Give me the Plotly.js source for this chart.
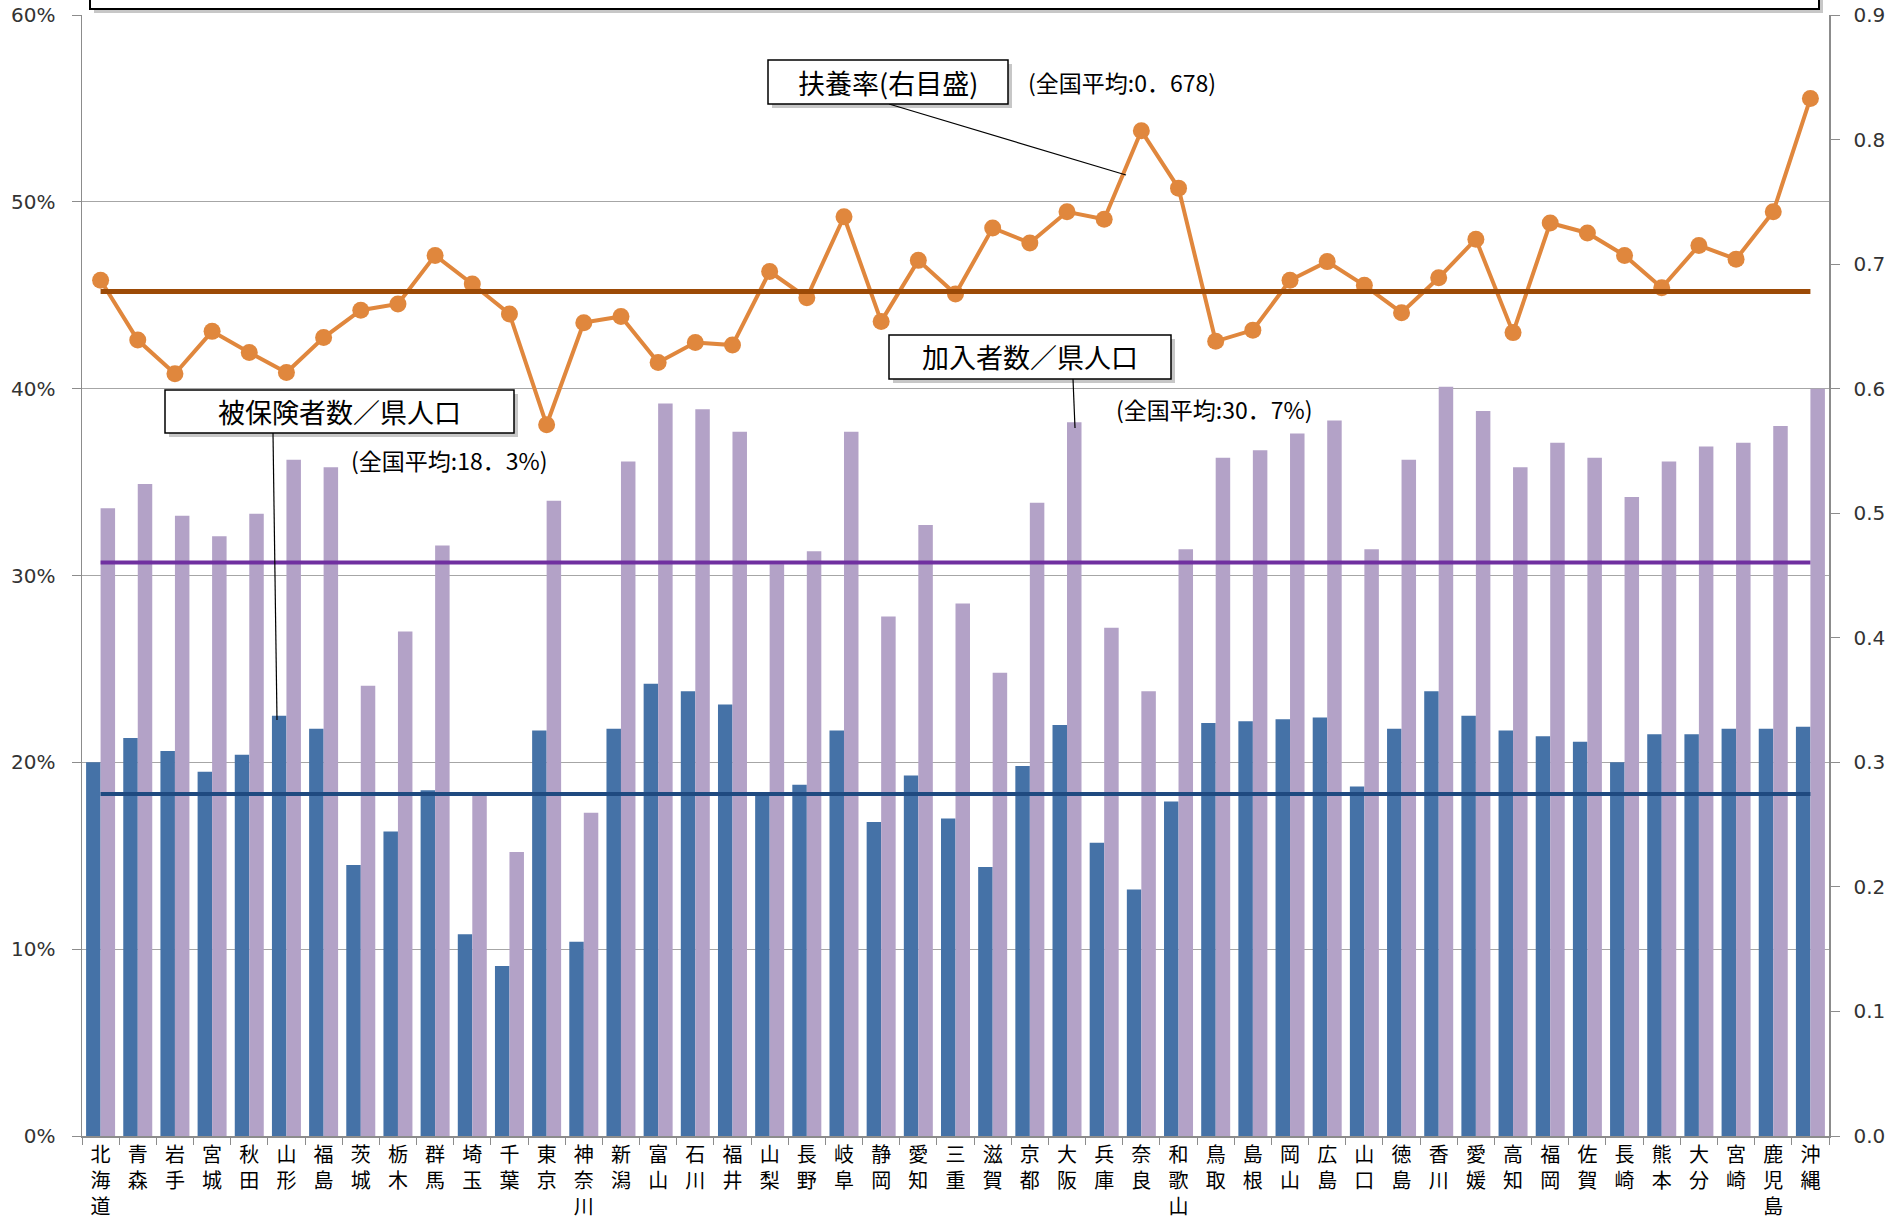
<!DOCTYPE html>
<html>
<head>
<meta charset="utf-8">
<script src="https://cdn.plot.ly/plotly-3.0.1.min.js"></script>
<style>
html,body{margin:0;padding:0;background:#ffffff;}
#chart{width:1891px;height:1218px;}
</style>
</head>
<body>
<div id="chart"></div>
<script>
// ---- data ----
const prefectures = ["北海道","青森","岩手","宮城","秋田","山形","福島","茨城","栃木","群馬",
  "埼玉","千葉","東京","神奈川","新潟","富山","石川","福井","山梨","長野",
  "岐阜","静岡","愛知","三重","滋賀","京都","大阪","兵庫","奈良","和歌山",
  "鳥取","島根","岡山","広島","山口","徳島","香川","愛媛","高知","福岡",
  "佐賀","長崎","熊本","大分","宮崎","鹿児島","沖縄"];

// 被保険者数／県人口 (%)
const insuredRatio = [20.0,21.3,20.6,19.5,20.4,22.5,21.8,14.5,16.3,18.5,
  10.8,9.1,21.7,10.4,21.8,24.2,23.8,23.1,18.4,18.8,
  21.7,16.8,19.3,17.0,14.4,19.8,22.0,15.7,13.2,17.9,
  22.1,22.2,22.3,22.4,18.7,21.8,23.8,22.5,21.7,21.4,
  21.1,20.0,21.5,21.5,21.8,21.8,21.9];

// 加入者数／県人口 (%)
const memberRatio = [33.6,34.9,33.2,32.1,33.3,36.2,35.8,24.1,27.0,31.6,
  18.2,15.2,34.0,17.3,36.1,39.2,38.9,37.7,30.6,31.3,
  37.7,27.8,32.7,28.5,24.8,33.9,38.2,27.2,23.8,31.4,
  36.3,36.7,37.6,38.3,31.4,36.2,40.1,38.8,35.8,37.1,
  36.3,34.2,36.1,36.9,37.1,38.0,40.0];

// 扶養率 (右目盛)
const dependencyRatio = [0.687,0.639,0.612,0.646,0.629,0.613,0.641,0.663,0.668,0.707,
  0.684,0.660,0.571,0.653,0.658,0.621,0.637,0.635,0.694,0.673,
  0.738,0.654,0.703,0.676,0.729,0.717,0.742,0.736,0.807,0.761,
  0.638,0.647,0.687,0.702,0.683,0.661,0.689,0.720,0.645,0.733,
  0.725,0.707,0.681,0.715,0.704,0.742,0.833];

// 全国平均
const avgInsured = 18.3;
const avgMember = 30.7;
const avgDependency = 0.678;

const boxLabels = ["扶養率(右目盛)", "加入者数／県人口", "被保険者数／県人口"];
const avgNotes = ["(全国平均:0．678)", "(全国平均:30．7%)", "(全国平均:18．3%)"];

// ---- geometry helpers (pixels -> paper) ----
const W = 1891, H = 1218;
const L = 82, R = 1829, T = 15, B = 1136;
const px = x => (x - L) / (R - L);
const py = y => (B - y) / (B - T);

const tickText = prefectures.map(p => p.split('').join('<br>'));
const flat = v => prefectures.map(() => v);

const traces = [
  {type:'bar', x:prefectures, y:insuredRatio, name:boxLabels[2],
   marker:{color:'#4572A7', line:{width:0}}, yaxis:'y', hoverinfo:'x+y'},
  {type:'bar', x:prefectures, y:memberRatio, name:boxLabels[1],
   marker:{color:'#B3A2C7', line:{width:0}}, yaxis:'y', hoverinfo:'x+y'},
  {type:'scatter', mode:'lines', x:prefectures, y:flat(avgMember), yaxis:'y',
   line:{color:'#7030A0', width:4}, hoverinfo:'skip'},
  {type:'scatter', mode:'lines', x:prefectures, y:flat(avgInsured), yaxis:'y',
   line:{color:'#1F4A80', width:4}, hoverinfo:'skip'},
  {type:'scatter', mode:'lines+markers', x:prefectures, y:dependencyRatio, yaxis:'y2',
   name:boxLabels[0], line:{color:'#E0873D', width:4},
   marker:{color:'#E0873D', size:17}},
  {type:'scatter', mode:'lines', x:prefectures, y:flat(avgDependency), yaxis:'y2',
   line:{color:'#9C4A06', width:5}, hoverinfo:'skip'}
];

function shadowBox(x0, y0, x1, y1, off, lw) {
  return [
    {type:'rect', xref:'paper', yref:'paper', layer:'above',
     x0:px(x0+off), x1:px(x1+off), y0:py(y0+off), y1:py(y1+off),
     fillcolor:'rgba(0,0,0,0.22)', line:{width:0}},
    {type:'rect', xref:'paper', yref:'paper', layer:'above',
     x0:px(x0), x1:px(x1), y0:py(y0), y1:py(y1),
     fillcolor:'#ffffff', line:{color:'#000000', width:lw}}
  ];
}
function callout(x0, y0, x1, y1) {
  return {type:'line', xref:'paper', yref:'paper', layer:'above',
    x0:px(x0), y0:py(y0), x1:px(x1), y1:py(y1),
    line:{color:'#000000', width:1.2}};
}

const shapes = [].concat(
  shadowBox(90, -30, 1819, 9, 4, 2),
  [callout(889, 104, 1126, 175)],
  shadowBox(768, 60, 1008, 104, 4, 1.5),
  [callout(1073, 379, 1075, 428)],
  shadowBox(889, 335, 1171, 379, 4, 1.5),
  [callout(273, 433, 277, 720)],
  shadowBox(165, 390, 514, 433, 4, 1.5)
);

const boxFont = {family:'Noto Sans CJK JP', size:27, color:'#000000'};
const noteFont = {family:'Noto Sans CJK JP', size:23, color:'#000000'};
const annotations = [
  {xref:'paper', yref:'paper', x:px(888), y:py(82), text:boxLabels[0], showarrow:false,
   xanchor:'center', yanchor:'middle', font:boxFont},
  {xref:'paper', yref:'paper', x:px(1026), y:py(82), text:avgNotes[0], showarrow:false,
   xanchor:'left', yanchor:'middle', font:noteFont},
  {xref:'paper', yref:'paper', x:px(1030), y:py(357), text:boxLabels[1], showarrow:false,
   xanchor:'center', yanchor:'middle', font:boxFont},
  {xref:'paper', yref:'paper', x:px(1114), y:py(409), text:avgNotes[1], showarrow:false,
   xanchor:'left', yanchor:'middle', font:noteFont},
  {xref:'paper', yref:'paper', x:px(339), y:py(412), text:boxLabels[2], showarrow:false,
   xanchor:'center', yanchor:'middle', font:boxFont},
  {xref:'paper', yref:'paper', x:px(349), y:py(460), text:avgNotes[2], showarrow:false,
   xanchor:'left', yanchor:'middle', font:noteFont}
];

const axisFont = {family:'DejaVu Sans', size:20, color:'#333333'};

const layout = {
  width:W, height:H,
  margin:{l:L, r:W-R, t:T, b:H-B, pad:0},
  paper_bgcolor:'#ffffff', plot_bgcolor:'#ffffff',
  showlegend:false,
  barmode:'group', bargap:0.22, bargroupgap:0,
  xaxis:{type:'category', range:[-0.5, prefectures.length-0.5], autorange:false,
    tickvals:prefectures, ticktext:tickText,
    tickson:'boundaries', ticks:'outside', ticklen:7, tickcolor:'#8c8c8c', tickwidth:1,
    showline:true, linecolor:'#8c8c8c', linewidth:1.5, showgrid:false, zeroline:false,
    tickangle:0, automargin:false,
    tickfont:{family:'Noto Sans CJK JP', size:20, color:'#000000'}},
  yaxis:{range:[0,60], autorange:false, dtick:10, tick0:0, ticksuffix:'%',
    showgrid:true, gridcolor:'#a6a6a6', gridwidth:1.2,
    showline:true, linecolor:'#8c8c8c', linewidth:1.5,
    ticks:'outside', ticklen:9, tickcolor:'#8c8c8c', ticklabelstandoff:12,
    zeroline:false, automargin:false, tickfont:axisFont},
  yaxis2:{range:[0,0.9], autorange:false, dtick:0.1, tick0:0, tickformat:'.1f',
    overlaying:'y', side:'right', showgrid:false,
    showline:true, linecolor:'#8c8c8c', linewidth:1.5,
    ticks:'outside', ticklen:9, tickcolor:'#8c8c8c', ticklabelstandoff:10,
    zeroline:false, automargin:false, tickfont:axisFont},
  shapes:shapes,
  annotations:annotations
};

Plotly.newPlot('chart', traces, layout, {displayModeBar:false, staticPlot:true});
</script>
</body>
</html>
